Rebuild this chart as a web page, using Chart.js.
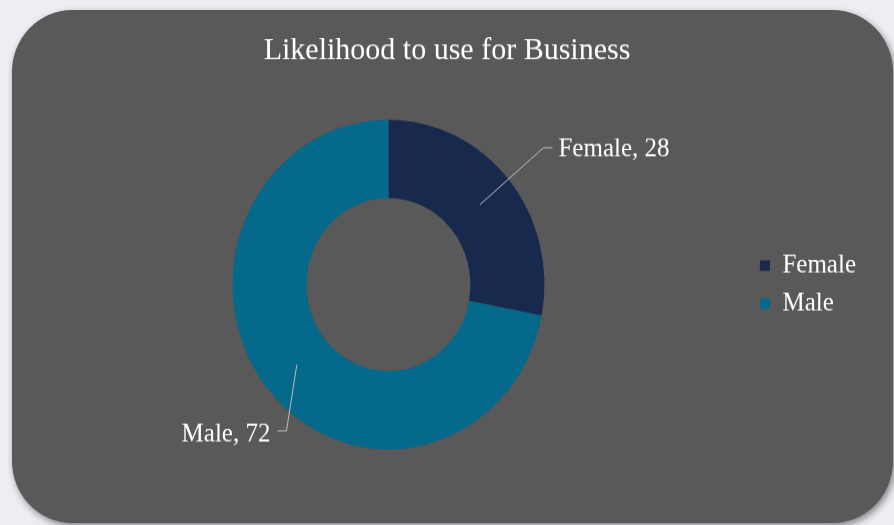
<!DOCTYPE html>
<html><head><meta charset="utf-8">
<script src="https://cdn.jsdelivr.net/npm/chart.js@4.4.1/dist/chart.umd.min.js"></script>
<style>
html,body{margin:0;padding:0;background:#eceef3;width:894px;height:525px;overflow:hidden;}
#panel{position:absolute;left:12px;top:10px;width:881px;height:513px;border-radius:60px/62px;background:#595959;box-shadow:2px 3px 7px rgba(0,0,0,0.45);}
#wrap{position:absolute;left:0;top:0;width:894px;height:497px;transform:scaleY(1.0563);transform-origin:0 0;}
</style></head><body>
<div id="panel"></div>
<div id="wrap"><canvas id="c"></canvas></div>
<script>
const titleText = 'Likelihood to use for Business';
const categories = ['Female', 'Male'];
const values = [28, 72];
const sliceColors = ['#172a4e', '#05698b'];

// label leader-line layout (offsets from doughnut centre), not data
const labelLayout = [
  { elbow: [155, -129.5], tail: 9, text: [15, 2] },
  { elbow: [-102, 138.5], tail: -9, text: [-16, 3.5] }
];
const FONT = "'Liberation Serif', 'Times New Roman', serif";

const dataLabels = {
  id: 'dataLabels',
  afterDatasetsDraw(chart) {
    const ctx = chart.ctx;
    const meta = chart.getDatasetMeta(0);
    ctx.save();
    meta.data.forEach((arc, i) => {
      const lay = labelLayout[i];
      const c = arc.getCenterPoint();
      const ex = arc.x + lay.elbow[0], ey = arc.y + lay.elbow[1];
      ctx.strokeStyle = '#bfbfbf';
      ctx.lineWidth = 1;
      ctx.beginPath();
      ctx.moveTo(c.x, c.y);
      ctx.lineTo(ex, ey);
      ctx.lineTo(ex + lay.tail, ey);
      ctx.stroke();
      ctx.fillStyle = '#ffffff';
      ctx.font = '25px ' + FONT;
      ctx.textBaseline = 'middle';
      ctx.textAlign = lay.tail > 0 ? 'left' : 'right';
      ctx.fillText(categories[i] + ', ' + values[i], ex + lay.text[0], ey + lay.text[1]);
    });
    ctx.restore();
  }
};

new Chart(document.getElementById('c'), {
  type: 'doughnut',
  data: {
    labels: categories,
    datasets: [{ data: values, backgroundColor: sliceColors, borderWidth: 0 }]
  },
  options: {
    responsive: true,
    maintainAspectRatio: false,
    animation: false,
    cutout: '52.5%',
    layout: { padding: { left: 28, right: 28, top: 0, bottom: 71.6 } },
    plugins: {
      tooltip: { enabled: false },
      title: {
        display: true,
        text: titleText,
        color: '#ffffff',
        font: { family: FONT, size: 30, weight: 'normal' },
        padding: { top: 30, bottom: 47.4 }
      },
      legend: {
        display: true,
        position: 'right',
        fullSize: false,
        labels: {
          color: '#ffffff',
          font: { family: FONT, size: 25 },
          boxWidth: 10,
          boxHeight: 10,
          padding: 11
        }
      }
    }
  },
  plugins: [dataLabels]
});
</script>
</body></html>
